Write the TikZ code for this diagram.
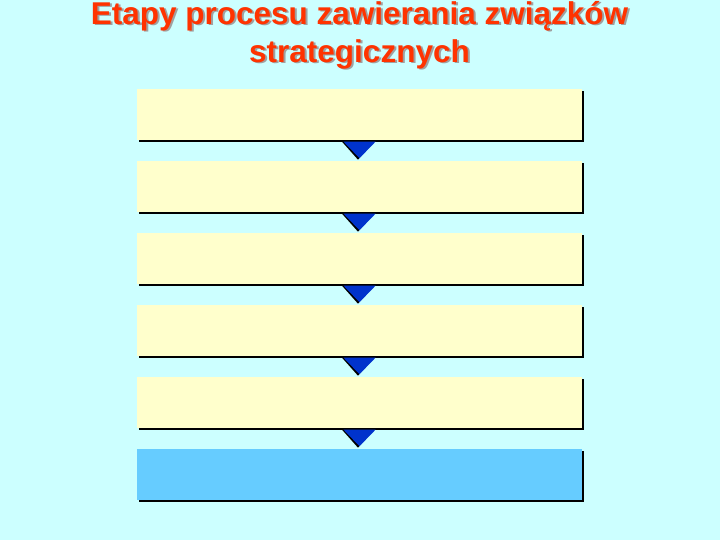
\documentclass[tikz,border=0pt]{standalone}
\usepackage{fontspec}
\setmainfont{Liberation Sans}
\usetikzlibrary{calc}
\definecolor{bgcyan}{RGB}{204,255,255}
\definecolor{boxyellow}{RGB}{255,255,204}
\definecolor{boxblue}{RGB}{102,204,255}
\definecolor{triblue}{RGB}{0,51,204}
\definecolor{titlered}{RGB}{255,51,0}
\definecolor{titleshadow}{RGB}{160,160,160}
\tikzset{
  stepbox/.style={rectangle, inner sep=0pt, minimum width=445pt, minimum height=51pt, fill=boxyellow, draw=none},
  stepshadow/.style={rectangle, inner sep=0pt, minimum width=445pt, minimum height=51pt, fill=black, draw=none},
  titletext/.style={font=\bfseries\fontsize{31.5}{38}\selectfont, inner sep=0pt, anchor=base},
}
\begin{document}
\begin{tikzpicture}[x=1pt,y=-1pt]
\useasboundingbox[fill=bgcyan] (0,0) rectangle (720,540);
% title
\node[titletext, text=titleshadow] (titleshadowa) at (361.5,26) {Etapy procesu zawierania związków};
\node[titletext, text=titleshadow] (titleshadowb) at (361.5,64) {strategicznych};
\node[titletext, text=titlered] (titlea) at (359.5,24.5) {Etapy procesu zawierania związków};
\node[titletext, text=titlered] (titleb) at (359.5,62.5) {strategicznych};
% boxes
\foreach \i in {1,...,6} {
  \pgfmathsetmacro{\cy}{114.5+72*(\i-1)}
  \node[stepshadow] (s\i) at (361.5,\cy+2) {};
}
\foreach \i in {1,...,5} {
  \pgfmathsetmacro{\cy}{114.5+72*(\i-1)}
  \node[stepbox] (b\i) at (359.5,\cy) {};
}
\node[stepbox, fill=boxblue] (b6) at (359.5,474.5) {};
% arrows (triangles)
\foreach \i/\j in {1/2,2/3,3/4,4/5,5/6} {
  \fill[black] ($(b\i.south)+(-17.5,1.5)$) -- ($(b\i.south)+(14.5,1.5)$) -- ($(b\i.south)+(-1.5,19.5)$) -- cycle;
  \fill[triblue] ($(b\i.south)+(-16,1.5)$) -- ($(b\i.south)+(16,1.5)$) -- ($(b\i.south)+(0,18)$) -- cycle;
}
\end{tikzpicture}
\end{document}
